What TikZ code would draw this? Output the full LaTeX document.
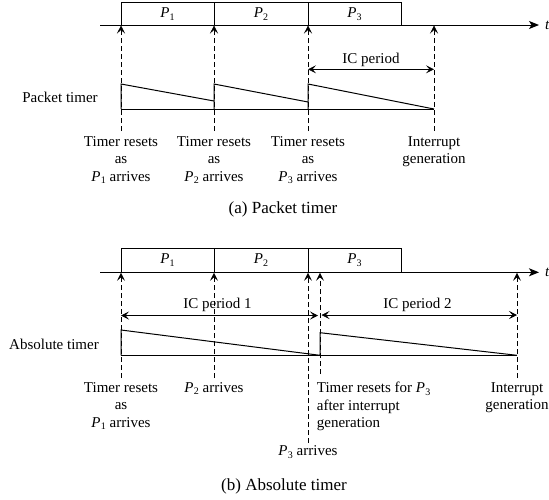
\documentclass[tikz,border=0pt]{standalone}
\usepackage{fontspec}
\setmainfont{Liberation Serif}
\usetikzlibrary{arrows.meta}
\newcommand{\pk}[1]{\textit{P}\kern0.3pt\raisebox{-0.4ex}{\fontsize{10}{10}\selectfont #1}}
\tikzset{
  ln/.style={line width=1pt},
  tipsm/.tip={Stealth[length=8pt,width=8pt,inset=3.5pt,line width=0.6pt]},
  dasharrow/.style={line width=1pt, dash pattern=on 5pt off 3pt, -tipsm},
  dimarrow/.style={line width=1pt, tipsm-tipsm},
  axisarrow/.style={line width=1pt, -{Stealth[length=10pt,width=8pt,inset=2.5pt]}},
  txt/.style={font=\fontsize{15}{17.5}\selectfont, inner sep=0pt},
  captxt/.style={font=\fontsize{17}{20}\selectfont, inner sep=0pt, anchor=base},
  lbl/.style={txt, align=center, anchor=north},
}
\begin{document}
\begin{tikzpicture}[x=1pt,y=-1pt]
\useasboundingbox (0,0) rectangle (549,499);
% ================= (a) =================
% packets
\draw[ln] (121,25) rectangle (214,2.7) node[midway,txt] (ap1) {\pk{1}};
\draw[ln] (214,25) rectangle (308,2.7) node[midway,txt] (ap2) {\pk{2}};
\draw[ln] (308,25) rectangle (401,2.7) node[midway,txt] (ap3) {\pk{3}};
% axis
\coordinate (aax0) at (100,25);
\coordinate (aax1) at (539,25);
\draw[axisarrow] (aax0) -- (aax1);
\node[txt, anchor=base west] (at) at (545,29) {\textit{t}};
% dashed arrows
\coordinate (ad1b) at (121,131); \coordinate (ad1t) at (121,25.5);
\coordinate (ad2b) at (214,131); \coordinate (ad2t) at (214,25.5);
\coordinate (ad3b) at (308,131); \coordinate (ad3t) at (308,25.5);
\coordinate (ad4b) at (434,131); \coordinate (ad4t) at (434,25.5);
\draw[dasharrow] (ad1b) -- (ad1t);
\draw[dasharrow] (ad2b) -- (ad2t);
\draw[dasharrow] (ad3b) -- (ad3t);
\draw[dasharrow] (ad4b) -- (ad4t);
% IC period
\coordinate (aic0) at (308,69.3);
\coordinate (aic1) at (434,69.3);
\draw[dimarrow] (aic0) -- (aic1);
\node[txt, anchor=base] (aiclbl) at (371,63) {IC period};
% packet timer
\node[txt, anchor=base] (aptl) at (60,102) {Packet timer};
\draw[ln] (121,109) -- (434,109);
\draw[ln] (121,109) -- (121,84) -- (214,101) (214,109) -- (214,84) -- (308,102)
          (308,109) -- (308,84) -- (434,109);
% labels
\node[lbl] (al1) at (121,136) {Timer resets\\as\\\pk{1} arrives};
\node[lbl] (al2) at (214,136) {Timer resets\\as\\\pk{2} arrives};
\node[lbl] (al3) at (308,136) {Timer resets\\as\\\pk{3} arrives};
\node[lbl] (al4) at (434,136) {Interrupt\\generation};
\node[captxt] (acap) at (283,213.3) {(a) Packet timer};
% ================= (b) =================
\draw[ln] (121,272.3) rectangle (214,248.3) node[midway,txt] (bp1) {\pk{1}};
\draw[ln] (214,272.3) rectangle (308,248.3) node[midway,txt] (bp2) {\pk{2}};
\draw[ln] (308,272.3) rectangle (401,248.3) node[midway,txt] (bp3) {\pk{3}};
\coordinate (bax0) at (100,272.3);
\coordinate (bax1) at (539,272.3);
\draw[axisarrow] (bax0) -- (bax1);
\node[txt, anchor=base west] (bt) at (545,276.3) {\textit{t}};
% dashed arrows
\coordinate (bd1b) at (121,378); \coordinate (bd1t) at (121,272.8);
\coordinate (bd2b) at (214,378); \coordinate (bd2t) at (214,272.8);
\coordinate (bd3b) at (308,443); \coordinate (bd3t) at (308,272.8);
\coordinate (bd4b) at (320,374); \coordinate (bd4t) at (320,272.8);
\coordinate (bd5b) at (517,378); \coordinate (bd5t) at (517,272.8);
\draw[dasharrow] (bd1b) -- (bd1t);
\draw[dasharrow] (bd2b) -- (bd2t);
\draw[dasharrow] (bd3b) -- (bd3t);
\draw[dasharrow] (bd4b) -- (bd4t);
\draw[dasharrow] (bd5b) -- (bd5t);
% IC periods
\coordinate (bic10) at (121,315.5);
\coordinate (bic11) at (318,315.5);
\coordinate (bic20) at (321.5,315);
\coordinate (bic21) at (517,315);
\draw[dimarrow] (bic10) -- (bic11);
\draw[dimarrow] (bic20) -- (bic21);
\node[txt, anchor=base] (bic1lbl) at (217.5,308.5) {IC period 1};
\node[txt, anchor=base] (bic2lbl) at (417.5,308) {IC period 2};
% absolute timer
\node[txt, anchor=base] (batl) at (54,349.3) {Absolute timer};
\draw[ln] (121,355.3) -- (517,355.3);
\draw[ln] (121,355.3) -- (121,330) -- (320,355.3) -- (320,332.7) -- (517,355.3);
% labels
\node[lbl] (bl1) at (121,382) {Timer resets\\as\\\pk{1} arrives};
\node[lbl] (bl2) at (214,382) {\pk{2} arrives};
\node[lbl, align=left, anchor=north west] (bl3) at (316.7,382) {Timer resets for \pk{3}\\after interrupt\\generation};
\node[lbl] (bl4) at (517,382) {Interrupt\\generation};
\node[lbl] (bl5) at (308,445.5) {\pk{3} arrives};
\node[captxt] (bcap) at (284,490) {(b) Absolute timer};
\end{tikzpicture}
\end{document}
